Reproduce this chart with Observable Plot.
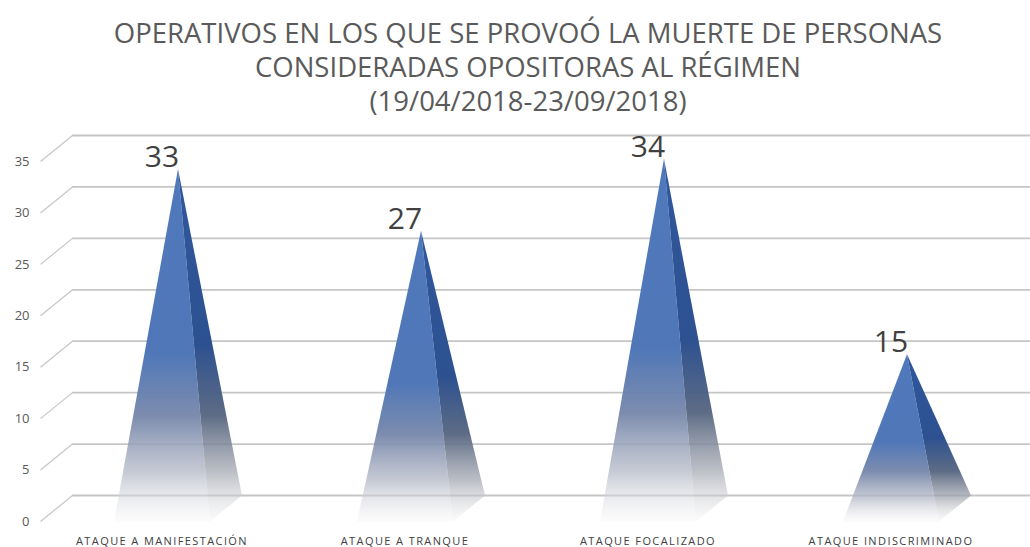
<!DOCTYPE html>
<html><head><meta charset="utf-8">
<script src="https://cdn.jsdelivr.net/npm/d3@7"></script>
<script src="https://cdn.jsdelivr.net/npm/@observablehq/plot@0.6"></script>
<style>
body{margin:0;background:#fff;width:1030px;height:547px;overflow:hidden}
#title{height:120px;box-sizing:border-box;padding:16px 0 0 26px;text-align:center;font-family:"Open Sans",sans-serif;font-size:27.5px;color:#5a5a5a;white-space:nowrap}
#title div{height:34px;line-height:34px;overflow:visible}
#chart svg{display:block;overflow:visible}
</style></head><body>
<div id="title"><div>OPERATIVOS EN LOS QUE SE PROVOÓ LA MUERTE DE PERSONAS</div><div>CONSIDERADAS OPOSITORAS AL RÉGIMEN</div><div>(19/04/2018-23/09/2018)</div></div>
<div id="chart"></div>
<script>
const categories = ["ATAQUE A MANIFESTACIÓN", "ATAQUE A TRANQUE", "ATAQUE FOCALIZADO", "ATAQUE INDISCRIMINADO"];
const values = [33, 27, 34, 15];
const yTicks = [0, 5, 10, 15, 20, 25, 30, 35];

// projection geometry (pixels → data units)
const W = 1030, H = 427;
const X0 = 72, X1 = 1044, Y0 = 375, Y1 = 15;
const pxPerX = (X1 - X0) / categories.length;
const pxPerY = (Y0 - Y1) / 35;
const depthX = -32 / pxPerX;   // front plane offset in x units
const depthY = -26 / pxPerY;   // front plane offset in y units
const halfW = 48 / pxPerX;

const faceRows = [];
values.forEach((v, i) => {
  const apex = {x: i + depthX / 2, y: v + depthY / 2};
  const fl = {x: i - halfW + depthX, y: depthY};
  const fr = {x: i + halfW + depthX, y: depthY};
  const br = {x: i + halfW, y: 0};
  [fl, fr, apex].forEach(p => faceRows.push({...p, face: "front", id: "f" + i}));
  [fr, br, apex].forEach(p => faceRows.push({...p, face: "right", id: "r" + i}));
});

const defs = () => {
  const g = document.createElementNS("http://www.w3.org/2000/svg", "g");
  g.innerHTML = `<defs>
    <linearGradient id="gFront" x1="0" y1="0" x2="0" y2="1">
      <stop offset="0" stop-color="#5079bd"/>
      <stop offset="0.52" stop-color="#4f77b8"/>
      <stop offset="0.7" stop-color="#7586aa" stop-opacity="0.95"/>
      <stop offset="0.86" stop-color="#b3b8c6" stop-opacity="0.75"/>
      <stop offset="1" stop-color="#f4f4f4" stop-opacity="0.3"/>
    </linearGradient>
    <linearGradient id="gRight" x1="0" y1="0" x2="0" y2="1">
      <stop offset="0" stop-color="#30589e"/>
      <stop offset="0.5" stop-color="#2d5190"/>
      <stop offset="0.7" stop-color="#55647f" stop-opacity="0.95"/>
      <stop offset="0.86" stop-color="#a6aab3" stop-opacity="0.75"/>
      <stop offset="1" stop-color="#efefef" stop-opacity="0.3"/>
    </linearGradient></defs>`;
  return g;
};

const chart = Plot.plot({
  width: W, height: H,
  marginLeft: X0, marginRight: 0, marginTop: Y1, marginBottom: H - Y0,
  x: {type: "linear", domain: [-0.5, categories.length - 0.5], range: [X0, X1], axis: null},
  y: {domain: [0, 35], range: [Y0, Y1], axis: null},
  style: {fontFamily: "'Open Sans', sans-serif", overflow: "visible"},
  marks: [
    defs,
    Plot.ruleY(yTicks, {stroke: "#c6c6c6", strokeWidth: 1.8}),
    Plot.link(yTicks, {x1: -0.5 + depthX, y1: d => d + depthY, x2: -0.5, y2: d => d, stroke: "#c6c6c6", strokeWidth: 1.2}),
    Plot.text(yTicks, {x: -0.5 + depthX, y: d => d + depthY, text: d => String(d), textAnchor: "end", dx: -11, fontSize: 13, fill: "#595959"}),
    Plot.line(faceRows.filter(d => d.face === "front"), {x: "x", y: "y", z: "id", fill: "url(#gFront)", stroke: "none", curve: "linear-closed"}),
    Plot.line(faceRows.filter(d => d.face === "right"), {x: "x", y: "y", z: "id", fill: "url(#gRight)", stroke: "none", curve: "linear-closed"}),
    Plot.text(values, {x: (d, i) => i + depthX, y: d => d + depthY / 2, text: d => String(d), lineAnchor: "bottom", dy: -2, fontSize: 30, fill: "#404040"}),
    Plot.text(categories, {x: (d, i) => i + depthX, y: depthY, text: d => d, dy: 20, fontSize: 11, fill: "#404040"})
  ]
});
d3.select(chart).selectAll("text").filter(function () { return categories.includes(this.textContent); })
  .attr("letter-spacing", "1.4px");
document.getElementById("chart").appendChild(chart);
</script>
</body></html>
